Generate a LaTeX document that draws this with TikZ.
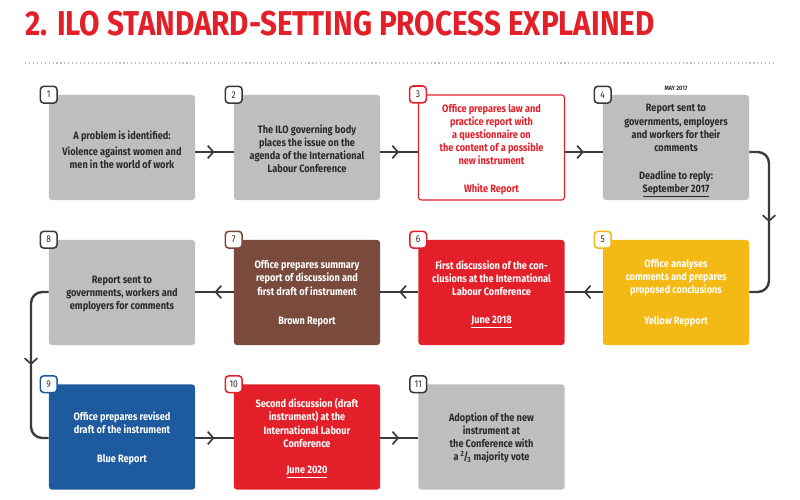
\documentclass[tikz,border=0pt]{standalone}
\usepackage{fontspec}
\setmainfont{Fira Sans}[FakeStretch=0.86]
\usepackage{xcolor}
\usetikzlibrary{arrows.meta, decorations.markings, positioning, calc}

\definecolor{ilored}{HTML}{E3202A}
\definecolor{ilogray}{HTML}{BEBEBE}
\definecolor{ilobrown}{HTML}{7A4B3C}
\definecolor{iloyellow}{HTML}{F4B914}
\definecolor{iloblue}{HTML}{1D5A9E}
\definecolor{iloline}{HTML}{3A3A3A}
\definecolor{ilotext}{HTML}{2A2A2A}

\tikzset{
  stepbox/.style={rectangle,rounded corners=2pt,minimum width=3.65cm,minimum height=2.625cm,inner sep=0pt},
  badge/.style={rectangle,draw=#1,fill=white,line width=1.1pt,rounded corners=2.5pt,minimum size=0.42cm,inner sep=0pt,text=ilotext,font=\fontsize{7}{8}\selectfont},
  boxtext/.style={align=center,font=\fontsize{7.6}{9.3}\selectfont\bfseries},
  flow/.style={line width=1.7pt,iloline,rounded corners=8pt,
    postaction={decorate},decoration={markings,mark=at position 0.5 with {\arrow{Straight Barb[length=4pt,width=9pt,line width=1.2pt]}}}}
}

\begin{document}
\begin{tikzpicture}[x=0.025cm,y=-0.025cm]
    \useasboundingbox (0,0) rectangle (800,499);

    % title
    \node[anchor=base west,inner sep=0pt,text=ilored,font=\fontsize{24.5}{26}\selectfont\bfseries] (title) at (25,36) {2. ILO STANDARD-SETTING PROCESS EXPLAINED};
    \coordinate (rulel) at (25,63);
    \coordinate (ruler) at (775,63);
    \draw[ilogray,dotted,line width=0.8pt] (rulel) -- (ruler);

    % row 1
    \node[stepbox,fill=ilogray] (n1) at (122,147.5) {};
    \node[stepbox,fill=ilogray] (n2) at (307,147.5) {};
    \node[stepbox,fill=white,draw=ilored,line width=0.8pt] (n3) at (491.5,147.5) {};
    \node[stepbox,fill=ilogray] (n4) at (676,147.5) {};
    \node[boxtext,text=ilotext] (t1) at (122,150) {A problem is identified:\\[2pt]Violence against women and\\men in the world of work};
    \node[boxtext,text=ilotext] (t2) at (307,149) {The ILO governing body\\places the issue on the\\agenda of the International\\Labour Conference};
    \node[boxtext,text=ilored] (t3) at (491.5,134.5) {Office prepares law and\\practice report with\\a questionnaire on\\the content of a possible\\new instrument};
    \node[boxtext,text=ilored] (f3) at (491.5,189) {White Report};
    \node[boxtext,text=ilotext] (t4) at (676,128) {Report sent to\\governments, employers\\and workers for their\\comments};
    \node[boxtext,text=ilotext] (f4) at (676,184) {Deadline to reply:\\\underline{September 2017}};
    \node[text=ilotext,font=\fontsize{4.5}{5}\selectfont\bfseries] (may) at (676,88) {MAY 2017};

    % row 2
    \node[stepbox,fill=iloyellow] (n5) at (676,292.5) {};
    \node[stepbox,fill=ilored] (n6) at (491.5,292.5) {};
    \node[stepbox,fill=ilobrown] (n7) at (307,292.5) {};
    \node[stepbox,fill=ilogray] (n8) at (122,292.5) {};
    \node[boxtext,text=white] (t5) at (676,278) {Office analyses\\comments and prepares\\proposed conclusions};
    \node[boxtext,text=white] (f5) at (676,322) {Yellow Repport};
    \node[boxtext,text=white] (t6) at (491.5,278) {First discussion of the con-\\clusions at the International\\Labour Conference};
    \node[boxtext,text=white] (f6) at (491.5,322) {\underline{June 2018}};
    \node[boxtext,text=white] (t7) at (307,278) {Office prepares summary\\report of discussion and\\first draft of instrument};
    \node[boxtext,text=white] (f7) at (307,322) {Brown Report};
    \node[boxtext,text=ilotext] (t8) at (122,294) {Report sent to\\governments, workers and\\employers for comments};

    % row 3
    \node[stepbox,fill=iloblue] (n9) at (122,437) {};
    \node[stepbox,fill=ilored] (n10) at (307,437) {};
    \node[stepbox,fill=ilogray] (n11) at (491.5,437) {};
    \node[boxtext,text=white] (t9) at (122,423) {Office prepares revised\\draft of the instrument};
    \node[boxtext,text=white] (f9) at (122,460) {Blue Report};
    \node[boxtext,text=white] (t10) at (307,423) {Second discussion (draft\\instrument) at the\\International Labour\\Conference};
    \node[boxtext,text=white] (f10) at (307,472) {\underline{June 2020}};
    \node[boxtext,text=ilotext] (t11) at (491.5,438) {Adoption of the new\\instrument at\\the Conference with\\a \textsuperscript{2}\kern-.1em/\kern-.1em\textsubscript{3} majority vote};

    % badges
    \foreach \n/\c in {1/iloline,2/iloline,3/ilored,4/iloline,5/iloyellow,6/ilored,7/ilobrown,8/iloline,9/iloblue,10/ilored,11/iloline}
      \node[badge=\c] (b\n) at (n\n.north west) {\n};

    % connectors
    \draw[flow] (n1.east |- 0,152) -- (n2.west |- 0,152);
    \draw[flow] (n2.east |- 0,152) -- (n3.west |- 0,152);
    \draw[flow] (n3.east |- 0,152) -- (n4.west |- 0,152);
    \draw[flow] (n4.east |- 0,152) -- (769,152) -- (769,292) -- (n5.east |- 0,292);
    \draw[flow] (n5.west |- 0,292) -- (n6.east |- 0,292);
    \draw[flow] (n6.west |- 0,292) -- (n7.east |- 0,292);
    \draw[flow] (n7.west |- 0,292) -- (n8.east |- 0,292);
    \draw[flow] (n8.west |- 0,292) -- (31,292) -- (31,438) -- (n9.west |- 0,438);
    \draw[flow] (n9.east |- 0,438) -- (n10.west |- 0,438);
    \draw[flow] (n10.east |- 0,438) -- (n11.west |- 0,438);
\end{tikzpicture}
\end{document}
